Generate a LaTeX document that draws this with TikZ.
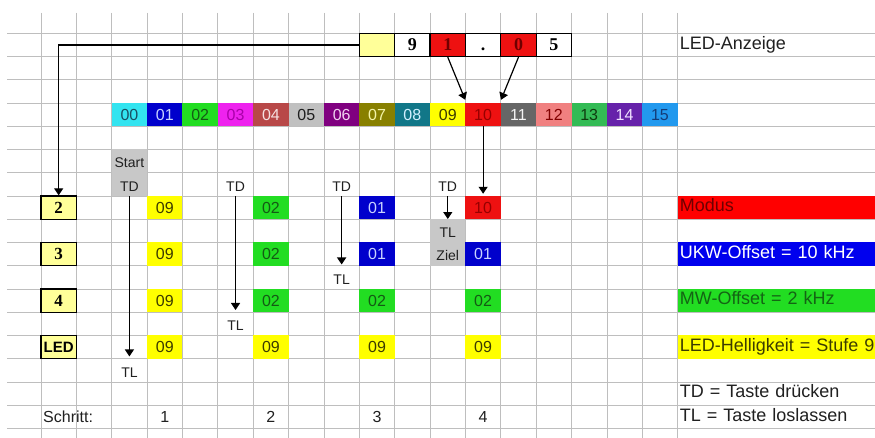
\documentclass[tikz,border=0pt]{standalone}
\usepackage{fontspec}
\setmainfont{Liberation Sans}
\newfontfamily\tnr{Liberation Serif}
\usetikzlibrary{arrows.meta}
\definecolor{gridc}{RGB}{190,190,190}
\definecolor{txt}{RGB}{32,32,32}
\definecolor{grayc}{RGB}{200,200,200}
\definecolor{lyellow}{RGB}{255,255,153}
\definecolor{ledred}{RGB}{238,17,17}
\definecolor{dred}{RGB}{110,0,0}
\definecolor{c00}{RGB}{51,228,240}\definecolor{t00}{RGB}{25,80,100}
\definecolor{c01}{RGB}{0,0,204}\definecolor{t01}{RGB}{200,210,255}
\definecolor{c02}{RGB}{34,221,34}\definecolor{t02}{RGB}{20,90,20}
\definecolor{c03}{RGB}{238,34,238}\definecolor{t03}{RGB}{170,0,170}
\definecolor{c04}{RGB}{184,72,72}\definecolor{t04}{RGB}{245,225,225}
\definecolor{c05}{RGB}{192,192,192}\definecolor{t05}{RGB}{30,30,30}
\definecolor{c06}{RGB}{128,0,128}\definecolor{t06}{RGB}{240,210,240}
\definecolor{c07}{RGB}{136,128,0}\definecolor{t07}{RGB}{245,245,170}
\definecolor{c08}{RGB}{17,119,136}\definecolor{t08}{RGB}{210,240,255}
\definecolor{c09}{RGB}{255,255,0}\definecolor{t09}{RGB}{60,60,0}
\definecolor{c10}{RGB}{238,17,17}\definecolor{t10}{RGB}{150,0,0}
\definecolor{c11}{RGB}{102,102,102}\definecolor{t11}{RGB}{245,245,245}
\definecolor{c12}{RGB}{240,128,128}\definecolor{t12}{RGB}{130,0,0}
\definecolor{c13}{RGB}{51,187,85}\definecolor{t13}{RGB}{15,60,15}
\definecolor{c14}{RGB}{102,34,170}\definecolor{t14}{RGB}{240,225,255}
\definecolor{c15}{RGB}{34,153,238}\definecolor{t15}{RGB}{20,60,120}
\definecolor{barred}{RGB}{255,0,0}
\definecolor{barblue}{RGB}{0,0,238}
\definecolor{bargreen}{RGB}{34,221,34}
\definecolor{bargtxt}{RGB}{20,100,20}
\begin{document}
\begin{tikzpicture}[x=1pt,y=-1pt,
  gridline/.style={draw=gridc, line width=0.8pt},
  cell/.style={minimum width=35.37pt, minimum height=23.24pt, inner sep=0pt,
    text height=11.2pt, text depth=0pt, font=\fontsize{16}{16}\selectfont},
  cc/.style 2 args={cell, fill=#1, text=#2},
  lbl/.style={cell, text height=13.5pt, font=\fontsize{14}{14}\selectfont, text=txt},
  graycell/.style={lbl, fill=grayc},
  ybox/.style={cell, fill=lyellow, draw=black, line width=1.3pt,
    font=\tnr\bfseries\fontsize{17}{17}\selectfont},
  ledc/.style={cell, draw=black, line width=1.2pt, text height=12pt,
    font=\tnr\bfseries\fontsize{18}{18}\selectfont},
  bar/.style={anchor=west, minimum height=23.24pt,
    inner xsep=2pt, inner ysep=0pt, text width=296pt, align=left,
    text height=12.5pt, text depth=3.8pt, font=\fontsize{18}{18}\selectfont},
  arr/.style={draw=black, line width=1.2pt, -{Triangle[length=7pt,width=9pt]}},
]
\useasboundingbox (0,0) rectangle (875,438);
\fill[white] (0,0) rectangle (875,438);
% grid
\foreach \k in {0,...,17} \draw[gridline] (7,{33.3+23.24*\k}) -- (875,{33.3+23.24*\k});
\foreach \k in {0,...,18} \draw[gridline] ({41+35.37*\k},13) -- ({41+35.37*\k},438);
\foreach \c in {0,...,18}{\foreach \r in {0,...,17}{
  \coordinate (g-\c-\r) at ({41+35.37*(\c+0.5)},{33.3+23.24*(\r+0.5)});}}
% colour row
\node[cc={c00}{t00}] (col00) at (g-2-3) {00};
\node[cc={c01}{t01}] (col01) at (g-3-3) {01};
\node[cc={c02}{t02}] (col02) at (g-4-3) {02};
\node[cc={c03}{t03}] (col03) at (g-5-3) {03};
\node[cc={c04}{t04}] (col04) at (g-6-3) {04};
\node[cc={c05}{t05}] (col05) at (g-7-3) {05};
\node[cc={c06}{t06}] (col06) at (g-8-3) {06};
\node[cc={c07}{t07}] (col07) at (g-9-3) {07};
\node[cc={c08}{t08}] (col08) at (g-10-3) {08};
\node[cc={c09}{t09}] (col09) at (g-11-3) {09};
\node[cc={c10}{t10}] (col10) at (g-12-3) {10};
\node[cc={c11}{t11}] (col11) at (g-13-3) {11};
\node[cc={c12}{t12}] (col12) at (g-14-3) {12};
\node[cc={c13}{t13}] (col13) at (g-15-3) {13};
\node[cc={c14}{t14}] (col14) at (g-16-3) {14};
\node[cc={c15}{t15}] (col15) at (g-17-3) {15};
% LED display
\node[ledc, fill=lyellow] (ledA) at (g-9-0) {};
\node[ledc, fill=white] (led9) at (g-10-0) {9};
\node[ledc, fill=ledred, text=dred] (led1) at (g-11-0) {1};
\node[ledc, fill=white] (ledDot) at (g-12-0) {.};
\node[ledc, fill=ledred, text=dred] (led0) at (g-13-0) {0};
\node[ledc, fill=white] (led5) at (g-14-0) {5};
% menu boxes
\node[ybox] (box2) at (g-0-7) {2};
\node[ybox] (box3) at (g-0-9) {3};
\node[ybox] (box4) at (g-0-11) {4};
\node[ybox, font=\bfseries\fontsize{15}{15}\selectfont] (boxL) at (g-0-13) {LED};
% data cells
\node[cc={c09}{t09}] (y1) at (g-3-7) {09};
\node[cc={c09}{t09}] (y2) at (g-3-9) {09};
\node[cc={c09}{t09}] (y3) at (g-3-11) {09};
\node[cc={c09}{t09}] (y4) at (g-3-13) {09};
\node[cc={c02}{t02}] (gr1) at (g-6-7) {02};
\node[cc={c02}{t02}] (gr2) at (g-6-9) {02};
\node[cc={c02}{t02}] (gr3) at (g-6-11) {02};
\node[cc={c09}{t09}] (y5) at (g-6-13) {09};
\node[cc={c01}{t01}] (b1) at (g-9-7) {01};
\node[cc={c01}{t01}] (b2) at (g-9-9) {01};
\node[cc={c02}{t02}] (gr4) at (g-9-11) {02};
\node[cc={c09}{t09}] (y6) at (g-9-13) {09};
\node[cc={c10}{t10}] (m10) at (g-12-7) {10};
\node[cc={c01}{t01}] (b3) at (g-12-9) {01};
\node[cc={c02}{t02}] (gr5) at (g-12-11) {02};
\node[cc={c09}{t09}] (y7) at (g-12-13) {09};
% key labels
\node[graycell, text height=12pt] (start) at (g-2-5) {Start};
\node[graycell] (td1) at (g-2-6) {TD};
\node[lbl] (td2) at (g-5-6) {TD};
\node[lbl] (td3) at (g-8-6) {TD};
\node[lbl] (td4) at (g-11-6) {TD};
\node[graycell] (tl4) at (g-11-8) {TL};
\node[graycell] (ziel) at (g-11-9) {Ziel};
\node[lbl] (tl3) at (g-8-10) {TL};
\node[lbl] (tl2) at (g-5-12) {TL};
\node[lbl] (tl1) at (g-2-14) {TL};
% steps
\node[cell, anchor=west, text=txt] (schritt) at ([xshift=-15.7pt]g-0-16) {Schritt:};
\node[cell, text=txt] (s1) at (g-3-16) {1};
\node[cell, text=txt] (s2) at (g-6-16) {2};
\node[cell, text=txt] (s3) at (g-9-16) {3};
\node[cell, text=txt] (s4) at (g-12-16) {4};
% right labels
\node[bar, text=txt] (anz) at ([xshift=-17.7pt]g-18-0) {LED-Anzeige};
\node[bar, fill=barred, text=dred] (modus) at ([xshift=-17.7pt]g-18-7) {Modus};
\node[bar, fill=barblue, text=white] (ukw) at ([xshift=-17.7pt]g-18-9) {UKW-Offset = 10 kHz};
\node[bar, fill=bargreen, text=bargtxt] (mw) at ([xshift=-17.7pt]g-18-11) {MW-Offset = 2 kHz};
\node[bar, fill=c09, text=t09] (hell) at ([xshift=-17.7pt]g-18-13) {LED-Helligkeit = Stufe 9};
\node[bar, text=txt] (tdl) at ([xshift=-17.7pt]g-18-15) {TD = Taste drücken};
\node[bar, text=txt] (tll) at ([xshift=-17.7pt]g-18-16) {TL = Taste loslassen};
% connectors
\draw[arr] (ledA.west) -| (box2.north);
\draw[arr] (led1.south) -- ([yshift=3pt]col10.north west);
\draw[arr] (led0.south) -- ([yshift=3pt]col10.north east);
\draw[arr] (col10.south) -- ([yshift=2pt]m10.north);
\draw[arr] (td1.south) -- ([yshift=2pt]tl1.north);
\draw[arr] (td2.south) -- ([yshift=2pt]tl2.north);
\draw[arr] (td3.south) -- ([yshift=1pt]tl3.north);
\draw[arr] (td4.south) -- (tl4.north);
\end{tikzpicture}
\end{document}
